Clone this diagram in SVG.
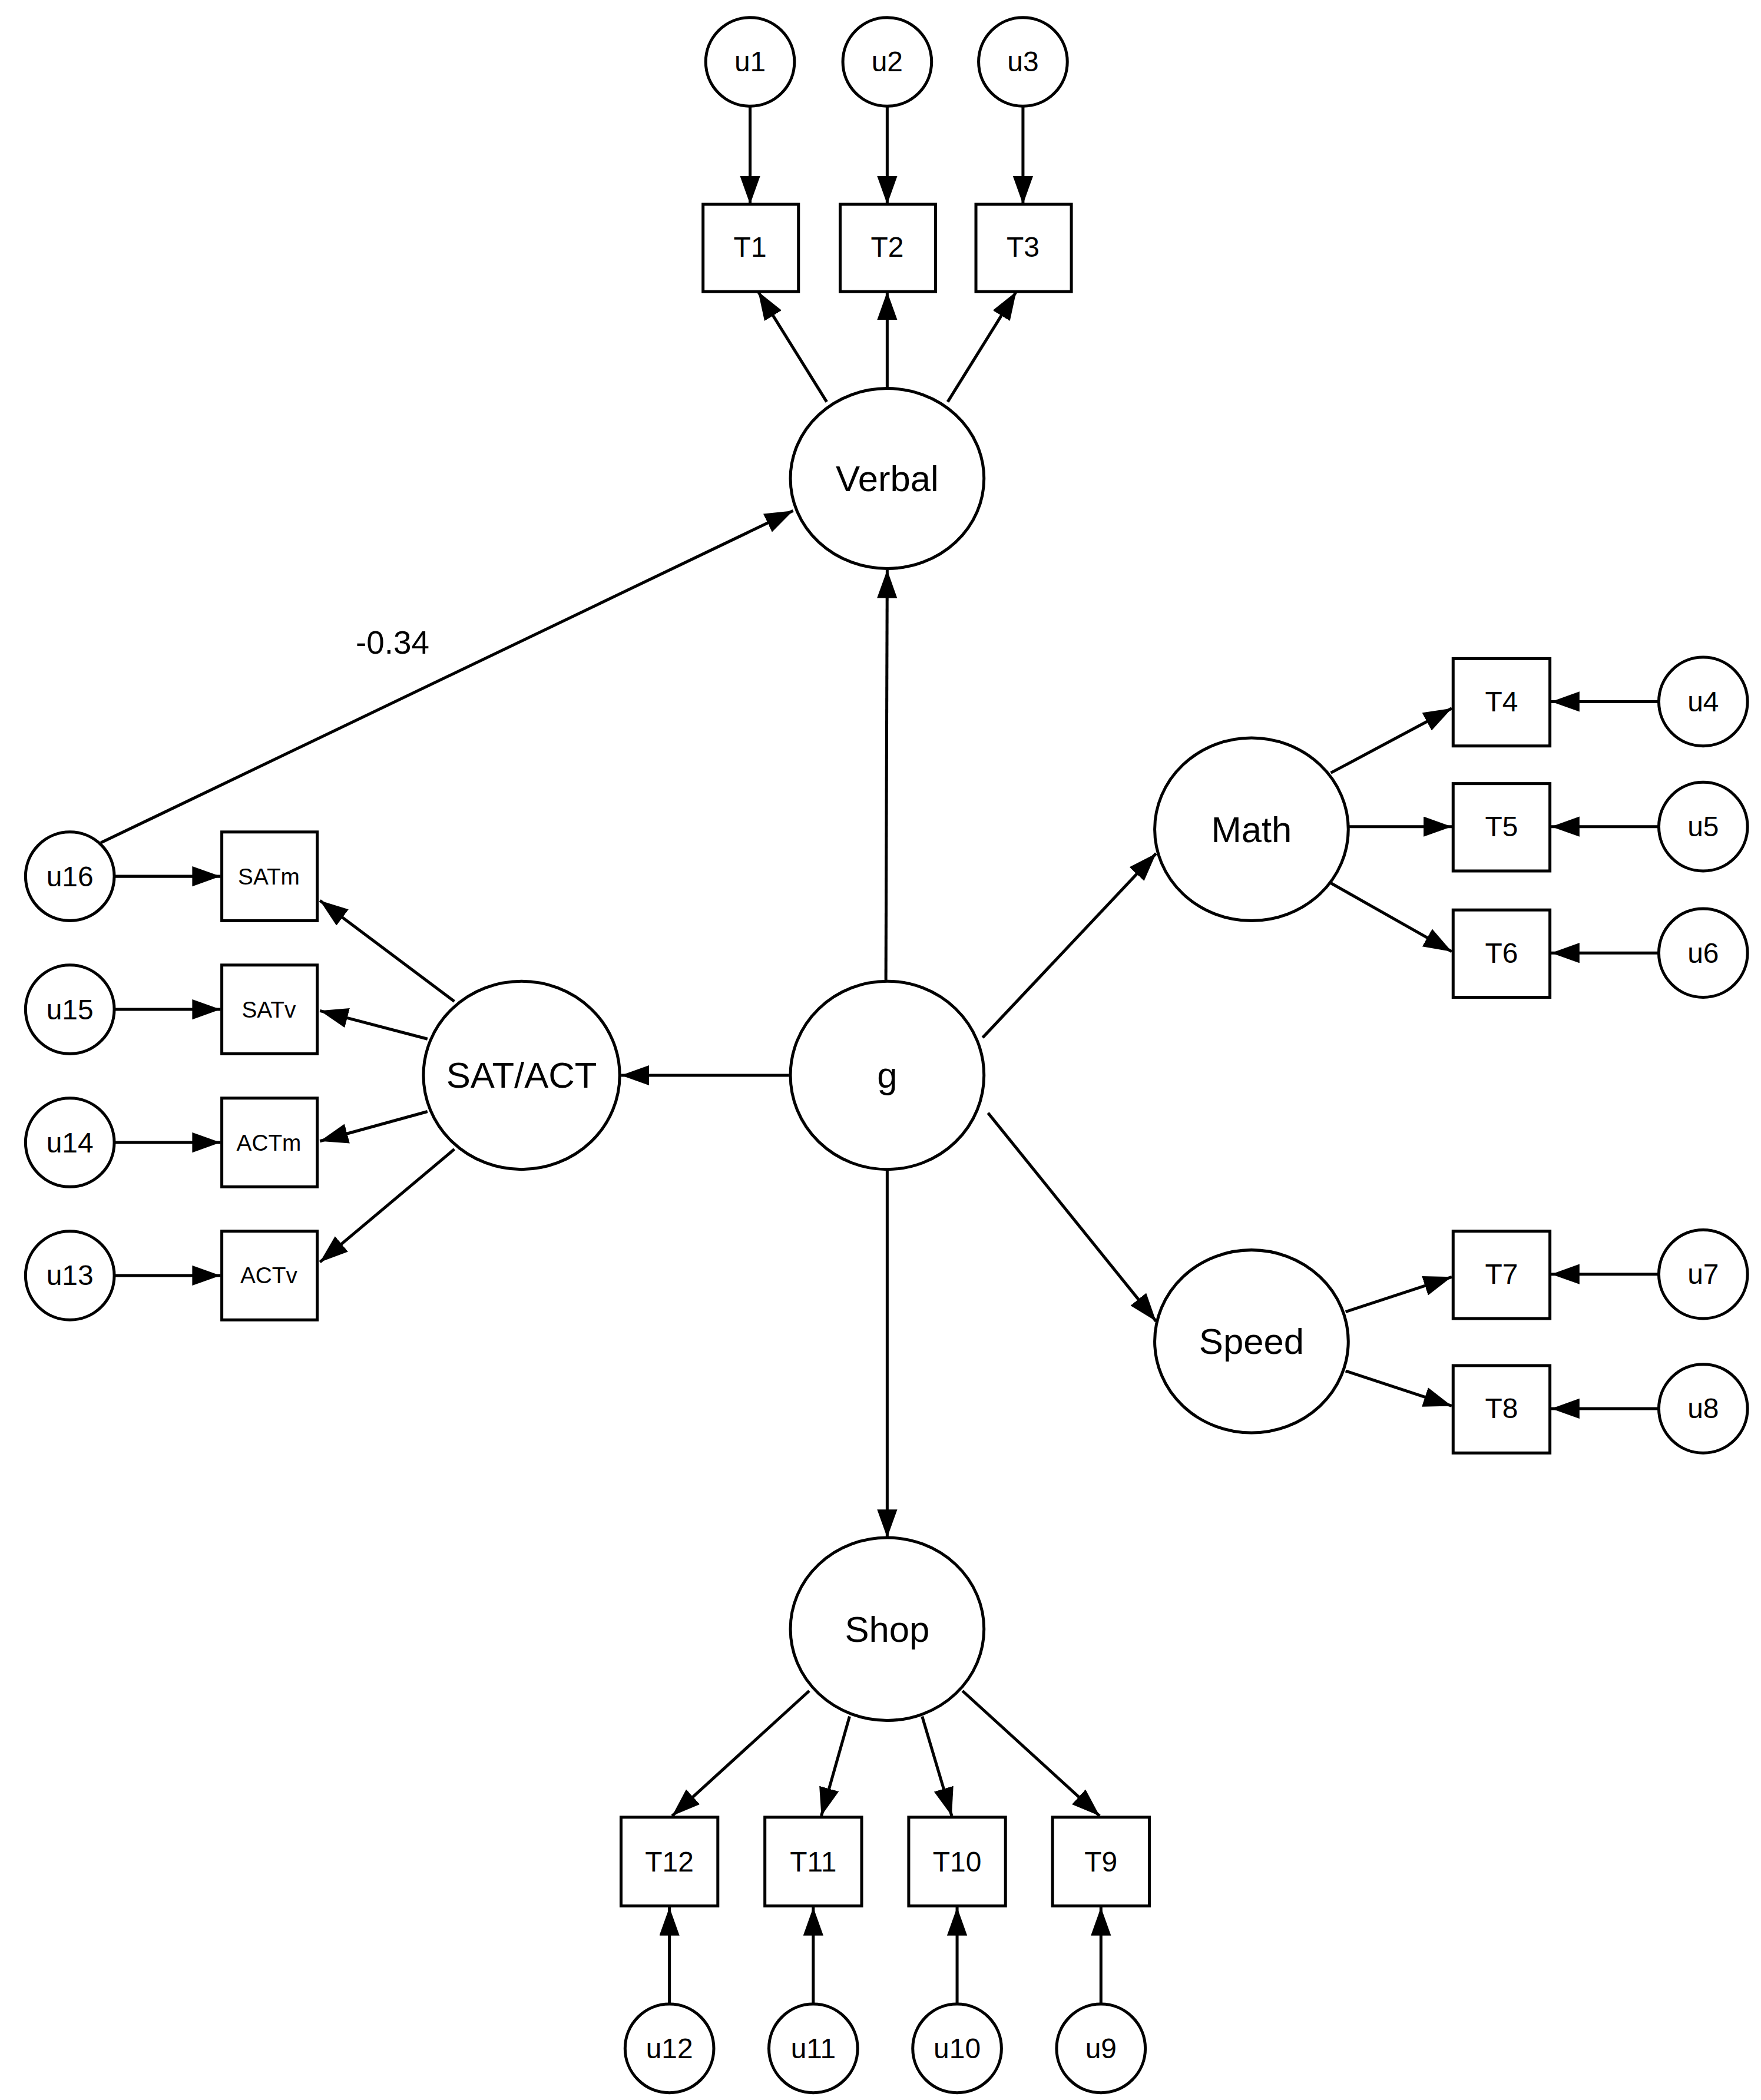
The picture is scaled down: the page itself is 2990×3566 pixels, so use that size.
<svg xmlns="http://www.w3.org/2000/svg" width="2990" height="3566" viewBox="0 0 2990 3566">
<style>
.n{fill:#fff;stroke:#000;stroke-width:2.2}
.e line{stroke:#000;stroke-width:2.2}
text{font-family:"Liberation Sans",Arial,sans-serif;text-anchor:middle;dominant-baseline:central;fill:#000}
.s{font-size:21px}.m{font-size:17px}.l{font-size:27px}
</style>
<defs><marker id="a" markerUnits="userSpaceOnUse" markerWidth="22" markerHeight="16" refX="21" refY="7.5" orient="auto"><path d="M0,0 L21,7.5 L0,15 z" fill="#000"/></marker></defs>
<rect width="2990" height="3566" fill="#fff"/>
<g transform="scale(2.2824)">
<g class="e" marker-end="url(#a)">
<line x1="558" y1="79" x2="558" y2="152" marker-end="url(#a)"/>
<line x1="660" y1="79" x2="660" y2="152" marker-end="url(#a)"/>
<line x1="761" y1="79" x2="761" y2="152" marker-end="url(#a)"/>
<line x1="615" y1="299" x2="564" y2="217" marker-end="url(#a)"/>
<line x1="660" y1="289" x2="660" y2="217" marker-end="url(#a)"/>
<line x1="705" y1="299" x2="756" y2="217" marker-end="url(#a)"/>
<line x1="659" y1="730" x2="660" y2="424" marker-end="url(#a)"/>
<line x1="75" y1="627" x2="590" y2="380" marker-end="url(#a)"/>
<line x1="731" y1="772" x2="860" y2="635" marker-end="url(#a)"/>
<line x1="990" y1="575" x2="1080" y2="527" marker-end="url(#a)"/>
<line x1="1003" y1="615" x2="1080" y2="615" marker-end="url(#a)"/>
<line x1="990" y1="657" x2="1080" y2="708" marker-end="url(#a)"/>
<line x1="1234" y1="522" x2="1154" y2="522" marker-end="url(#a)"/>
<line x1="1234" y1="615" x2="1154" y2="615" marker-end="url(#a)"/>
<line x1="1234" y1="709" x2="1154" y2="709" marker-end="url(#a)"/>
<line x1="735" y1="828" x2="860" y2="983" marker-end="url(#a)"/>
<line x1="1001" y1="976" x2="1080" y2="950" marker-end="url(#a)"/>
<line x1="1001" y1="1020" x2="1080" y2="1046" marker-end="url(#a)"/>
<line x1="1234" y1="948" x2="1154" y2="948" marker-end="url(#a)"/>
<line x1="1234" y1="1048" x2="1154" y2="1048" marker-end="url(#a)"/>
<line x1="660" y1="870" x2="660" y2="1144" marker-end="url(#a)"/>
<line x1="602" y1="1258" x2="500" y2="1351" marker-end="url(#a)"/>
<line x1="632" y1="1277" x2="611" y2="1351" marker-end="url(#a)"/>
<line x1="686" y1="1277" x2="708" y2="1351" marker-end="url(#a)"/>
<line x1="716" y1="1258" x2="818" y2="1351" marker-end="url(#a)"/>
<line x1="498" y1="1491" x2="498" y2="1419" marker-end="url(#a)"/>
<line x1="605" y1="1491" x2="605" y2="1419" marker-end="url(#a)"/>
<line x1="712" y1="1491" x2="712" y2="1419" marker-end="url(#a)"/>
<line x1="819" y1="1491" x2="819" y2="1419" marker-end="url(#a)"/>
<line x1="587" y1="800" x2="462" y2="800" marker-end="url(#a)"/>
<line x1="338" y1="745" x2="238" y2="670" marker-end="url(#a)"/>
<line x1="318" y1="773" x2="238" y2="752" marker-end="url(#a)"/>
<line x1="318" y1="827" x2="238" y2="849" marker-end="url(#a)"/>
<line x1="338" y1="855" x2="238" y2="939" marker-end="url(#a)"/>
<line x1="85" y1="652" x2="164" y2="652" marker-end="url(#a)"/>
<line x1="85" y1="751" x2="164" y2="751" marker-end="url(#a)"/>
<line x1="85" y1="850" x2="164" y2="850" marker-end="url(#a)"/>
<line x1="85" y1="949" x2="164" y2="949" marker-end="url(#a)"/>
</g>
<text x="292" y="478" class="s" style="font-size:24px">-0.34</text>
<g id="Verbal"><ellipse class="n" cx="660" cy="356" rx="72" ry="67"/><text x="660" y="356" class="l">Verbal</text></g>
<g id="g"><ellipse class="n" cx="660" cy="800" rx="72" ry="70"/><text x="660" y="800" class="l">g</text></g>
<g id="Math"><ellipse class="n" cx="931" cy="617" rx="72" ry="68"/><text x="931" y="617" class="l">Math</text></g>
<g id="Speed"><ellipse class="n" cx="931" cy="998" rx="72" ry="68"/><text x="931" y="998" class="l">Speed</text></g>
<g id="Shop"><ellipse class="n" cx="660" cy="1212" rx="72" ry="68"/><text x="660" y="1212" class="l">Shop</text></g>
<g id="SATACT"><ellipse class="n" cx="388" cy="800" rx="73" ry="70"/><text x="388" y="800" class="l">SAT/ACT</text></g>
<g id="T1"><rect class="n" x="523" y="152" width="71" height="65"/><text x="558" y="184" class="s">T1</text></g>
<g id="T2"><rect class="n" x="625" y="152" width="71" height="65"/><text x="660" y="184" class="s">T2</text></g>
<g id="T3"><rect class="n" x="726" y="152" width="71" height="65"/><text x="761" y="184" class="s">T3</text></g>
<g id="T4"><rect class="n" x="1081" y="490" width="72" height="65"/><text x="1117" y="522" class="s">T4</text></g>
<g id="T5"><rect class="n" x="1081" y="583" width="72" height="65"/><text x="1117" y="615" class="s">T5</text></g>
<g id="T6"><rect class="n" x="1081" y="677" width="72" height="65"/><text x="1117" y="709" class="s">T6</text></g>
<g id="T7"><rect class="n" x="1081" y="916" width="72" height="65"/><text x="1117" y="948" class="s">T7</text></g>
<g id="T8"><rect class="n" x="1081" y="1016" width="72" height="65"/><text x="1117" y="1048" class="s">T8</text></g>
<g id="T12"><rect class="n" x="462" y="1352" width="72" height="66"/><text x="498" y="1385" class="s">T12</text></g>
<g id="T11"><rect class="n" x="569" y="1352" width="72" height="66"/><text x="605" y="1385" class="s">T11</text></g>
<g id="T10"><rect class="n" x="676" y="1352" width="72" height="66"/><text x="712" y="1385" class="s">T10</text></g>
<g id="T9"><rect class="n" x="783" y="1352" width="72" height="66"/><text x="819" y="1385" class="s">T9</text></g>
<g id="SATm"><rect class="n" x="165" y="619" width="71" height="66"/><text x="200" y="652" class="m">SATm</text></g>
<g id="SATv"><rect class="n" x="165" y="718" width="71" height="66"/><text x="200" y="751" class="m">SATv</text></g>
<g id="ACTm"><rect class="n" x="165" y="817" width="71" height="66"/><text x="200" y="850" class="m">ACTm</text></g>
<g id="ACTv"><rect class="n" x="165" y="916" width="71" height="66"/><text x="200" y="949" class="m">ACTv</text></g>
<g id="u1"><circle class="n" cx="558" cy="46" r="33"/><text x="558" y="46" class="s">u1</text></g>
<g id="u2"><circle class="n" cx="660" cy="46" r="33"/><text x="660" y="46" class="s">u2</text></g>
<g id="u3"><circle class="n" cx="761" cy="46" r="33"/><text x="761" y="46" class="s">u3</text></g>
<g id="u4"><circle class="n" cx="1267" cy="522" r="33"/><text x="1267" y="522" class="s">u4</text></g>
<g id="u5"><circle class="n" cx="1267" cy="615" r="33"/><text x="1267" y="615" class="s">u5</text></g>
<g id="u6"><circle class="n" cx="1267" cy="709" r="33"/><text x="1267" y="709" class="s">u6</text></g>
<g id="u7"><circle class="n" cx="1267" cy="948" r="33"/><text x="1267" y="948" class="s">u7</text></g>
<g id="u8"><circle class="n" cx="1267" cy="1048" r="33"/><text x="1267" y="1048" class="s">u8</text></g>
<g id="u12"><circle class="n" cx="498" cy="1524" r="33"/><text x="498" y="1524" class="s">u12</text></g>
<g id="u11"><circle class="n" cx="605" cy="1524" r="33"/><text x="605" y="1524" class="s">u11</text></g>
<g id="u10"><circle class="n" cx="712" cy="1524" r="33"/><text x="712" y="1524" class="s">u10</text></g>
<g id="u9"><circle class="n" cx="819" cy="1524" r="33"/><text x="819" y="1524" class="s">u9</text></g>
<g id="u16"><circle class="n" cx="52" cy="652" r="33"/><text x="52" y="652" class="s">u16</text></g>
<g id="u15"><circle class="n" cx="52" cy="751" r="33"/><text x="52" y="751" class="s">u15</text></g>
<g id="u14"><circle class="n" cx="52" cy="850" r="33"/><text x="52" y="850" class="s">u14</text></g>
<g id="u13"><circle class="n" cx="52" cy="949" r="33"/><text x="52" y="949" class="s">u13</text></g>
</g>
</svg>
